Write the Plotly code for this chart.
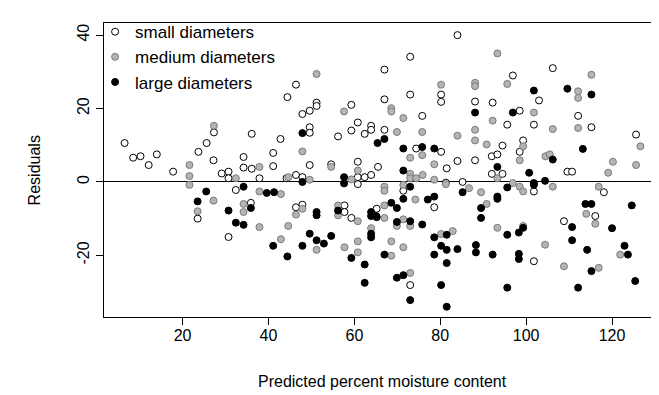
import plotly.graph_objects as go

# Small diameters (open circles)
small_x = [6.5, 8.5, 10.2, 14.0, 12.1, 17.8,
           23.7, 25.6, 27.3, 27.2, 36.1, 42.8, 44.4, 34.2, 41.1, 41.1, 34.2, 36.1, 29.1, 30.7, 30.7, 37.9, 44.2,
           23.5, 32.4, 35.9, 30.7,
           46.4, 51.2, 51.2, 49.6, 47.9, 59.3, 49.6, 49.6, 56.2, 59.3, 60.8, 62.4, 63.9, 63.9, 49.6, 54.6, 60.8, 65.5,
           46.4, 47.9, 60.8, 62.4, 63.9,
           60.8, 46.4, 47.9, 57.7, 57.7, 59.3,
           84.0, 73.0, 67.0, 80.2, 80.2, 73.0, 67.0, 75.8, 67.0, 74.4, 80.2, 81.5, 84.0, 81.3, 85.2,
           71.4, 78.6, 65.2, 73.0,
           106.2, 96.9, 103.0, 88.1, 92.2, 98.5, 95.6, 101.8, 94.5, 99.3, 98.5, 92.0, 93.3, 88.1, 92.0, 94.5,
           101.8, 101.8,
           112.1, 115.2, 125.6, 109.6, 110.7,
           118.1, 116.1, 108.8]
small_y = [10.6, 6.6, 7.0, 7.5, 4.6, 2.8,
           8.2, 10.6, 13.5, 5.9, 13.1, 11.7, 23.1, 6.8, 7.9, 4.3, 3.9, 3.6, 2.3, 2.8, 1.0, 1.0, 1.0,
           -10.0, -2.2, -5.7, -15.0,
           26.5, 21.6, 20.7, 19.4, 18.5, 21.0, 14.9, 13.4, 12.4, 14.0, 16.2, 13.1, 15.3, 14.2, 4.6, 4.8, 5.5, 4.1,
           1.9, 1.3, 1.3, 1.3, 1.9,
           -0.6, -6.9, -6.2, -6.4, -8.2, -9.8,
           40.0, 34.1, 30.6, 23.8, 21.8, 23.8, 22.5, 18.0, 14.2, 9.1, 8.2, 3.7, 5.7, -0.2, 0.0,
           -2.4, -6.9, -7.3, -28.1,
           31.0, 29.0, 22.2, 21.9, 21.6, 19.4, 15.6, 15.6, 9.9, 11.3, 8.2, 7.0, 7.5, 5.9, 2.2, 2.2,
           -2.6, -21.6,
           18.0, 14.9, 12.9, 2.8, 2.8,
           -2.8, -9.3, -10.7]

# Medium diameters (grey filled)
medium_x = [21.6, 21.6, 21.6,
            27.3, 37.9, 32.4,
            27.2, 23.5, 37.9, 42.9, 34.2, 34.2, 37.9, 44.6, 42.9,
            51.2, 57.6, 47.9, 54.6, 60.8, 44.6, 49.6, 59.3,
            46.4, 47.9, 51.2, 56.2, 56.2, 60.8, 57.7, 60.8, 60.8, 63.9,
            80.2, 68.6, 68.6, 71.4, 69.9, 75.8, 84.0, 75.8, 73.0, 78.6, 73.0, 73.0, 74.4, 75.9, 78.6,
            81.3, 67.0, 67.0, 71.4, 74.2, 67.0, 67.0, 69.9, 71.4, 73.0, 80.2, 82.9, 68.6, 68.6, 71.4, 73.0,
            93.3, 95.6, 88.1, 88.1, 101.8, 92.2, 106.2, 88.1, 88.1, 90.8, 99.3, 98.5, 104.5, 105.5, 93.3, 96.9,
            86.7, 89.5, 98.5, 99.3, 106.2, 90.8, 93.3, 99.3, 104.4,
            115.2, 112.1, 112.1, 112.1, 126.6, 120.2, 125.6, 119.1,
            116.9, 114.0, 116.1, 121.9, 108.8, 116.9]
medium_y = [4.6, 1.6, -0.8,
            15.3, 4.1, 1.0,
            -5.1, -8.0, -2.6, -3.3, -6.0, -8.2, -12.3, -12.0, -15.6,
            29.4, 19.2, 8.3, 4.1, 3.1, 1.3, 0.6, 0.7,
            -8.9, -7.3, -18.5, -6.4, -9.1, -10.7, -17.8, -16.2, -19.2, -12.6,
            26.5, 20.1, 19.2, 17.4, 13.6, 13.6, 12.6, 7.3, 6.6, 4.8, 2.2, 1.0, 1.0, 1.9, 0.6,
            -0.6, -1.3, -2.4, -0.8, -4.8, -6.4, -9.8, -12.0, -10.2, -12.0, -14.2, -13.4, -16.2, -20.1, -17.8, -24.8,
            35.0, 26.7, 27.0, 26.1, 18.9, 16.7, 14.4, 14.2, 11.3, 10.2, 9.7, 5.9, 7.0, 7.5, 1.0, -0.3,
            -1.7, -2.8, -1.3, -2.6, -1.3, -6.0, -12.5, -12.0, -17.1,
            29.2, 24.7, 22.9, 14.7, 9.7, 5.5, 4.6, 2.5,
            -1.3, -8.7, -11.4, -19.8, -23.0, -23.4]

# Large diameters (black filled)
large_x = [34.2, 25.5, 23.5, 39.6, 41.3, 35.9, 30.7, 32.4, 34.2, 41.1, 44.4,
           47.9, 65.4, 47.9, 57.6,
           57.6, 51.2, 51.2, 49.6, 47.9, 51.2, 52.9, 54.6, 56.2, 59.3, 62.4, 62.4, 63.9, 63.9, 63.9, 63.9, 65.1,
           67.0, 75.8, 71.4, 78.6, 71.4,
           85.2, 73.0, 71.4, 77.1, 78.6, 68.6, 69.9, 65.2, 69.9, 73.0, 75.8, 78.6, 81.5, 80.2, 81.5, 84.0, 78.6,
           81.5, 67.0, 69.9, 71.4, 73.0, 80.2, 81.5,
           101.8, 88.1, 96.9, 106.2, 93.3, 100.7, 104.4, 101.8,
           93.3, 93.3, 95.6, 101.8, 89.5, 89.5, 95.6, 98.3, 99.3, 88.3, 88.3, 92.2, 98.3, 98.3, 95.6,
           109.6, 115.2, 113.2,
           113.8, 115.2, 124.6, 110.7, 110.7, 120.0, 114.2, 122.9, 123.7, 115.2, 125.4, 112.1]
large_y = [-1.3, -2.6, -5.3, -3.0, -2.8, -7.1, -7.8, -11.1, -11.7, -17.4, -20.3,
           13.3, 10.6, 0.0, 1.3,
           -0.4, -8.2, -9.1, -14.1, -17.4, -15.9, -16.8, -14.7, -7.8, -20.7, -22.5, -27.5, -8.2, -9.3, -14.1, -15.1, -9.3,
           11.7, 9.5, 9.1, 9.1, 3.1,
           -2.8, -1.3, -4.6, -4.8, -4.0, -5.7, -7.1, -9.6, -10.9, -10.7, -11.6, -15.1, -14.4, -17.4, -18.5, -18.3, -19.8,
           -22.1, -19.8, -26.1, -25.4, -32.2, -28.1, -34.0,
           24.9, 18.9, 18.9, 6.1, 4.1, 2.5, 0.3, -0.3,
           -4.0, -4.6, -1.5, -0.8, -7.1, -9.8, -14.4, -13.8, -12.5, -17.2, -19.2, -19.8, -19.6, -21.0, -28.8,
           25.4, 23.8, 9.0,
           -6.0, -6.0, -6.4, -12.3, -15.9, -12.6, -18.5, -17.4, -19.8, -24.3, -27.0, -28.8]

x_ticks = [20, 40, 60, 80, 100, 120]
y_ticks = [-20, 0, 20, 40]
y_ticktext = ["-20", "0", "20", "40"]

FONT = "Liberation Sans, Arial, sans-serif"

fig = go.Figure()
fig.add_trace(go.Scatter(x=small_x, y=small_y, mode="markers", name="small diameters",
                         marker=dict(size=7, color="white", line=dict(color="black", width=1))))
fig.add_trace(go.Scatter(x=medium_x, y=medium_y, mode="markers", name="medium diameters",
                         marker=dict(size=7, color="#b4b4b4", line=dict(color="#7a7a7a", width=1))))
fig.add_trace(go.Scatter(x=large_x, y=large_y, mode="markers", name="large diameters",
                         marker=dict(size=7, color="black", line=dict(color="black", width=1))))

fig.update_layout(
    width=659, height=395,
    margin=dict(l=96, r=6, t=11, b=86),
    paper_bgcolor="white", plot_bgcolor="white",
    font=dict(family=FONT, size=16, color="black"),
    showlegend=True,
    legend=dict(x=-0.016, y=1.03, xanchor="left", yanchor="top", bgcolor="rgba(0,0,0,0)",
                font=dict(size=17, color="black"), tracegroupgap=0, itemwidth=30),
    xaxis=dict(range=[1.7, 131.4], tickvals=x_ticks, ticks="outside", ticklen=7, tickcolor="black",
               showgrid=False, zeroline=False, showline=True, linecolor="black", linewidth=1, mirror=True,
               tickfont=dict(size=16), ticklabelstandoff=-3),
    yaxis=dict(range=[-36.8, 43.3], tickvals=y_ticks, ticktext=y_ticktext, ticks="outside", ticklen=7,
               tickcolor="black", tickangle=-90, showgrid=False, zeroline=True, zerolinecolor="black",
               zerolinewidth=1, showline=True, linecolor="black", linewidth=1, mirror=True,
               tickfont=dict(size=16), ticklabelstandoff=1),
    annotations=[
        dict(text="Predicted percent moisture content", xref="paper", yref="paper", x=0.5, y=-0.22,
             xanchor="center", yanchor="middle", showarrow=False, font=dict(size=16)),
        dict(text="Residuals", xref="paper", yref="paper", x=-0.125, y=0.5, textangle=-90,
             xanchor="center", yanchor="middle", showarrow=False, font=dict(size=16)),
    ],
)

fig.write_html("out.html")
